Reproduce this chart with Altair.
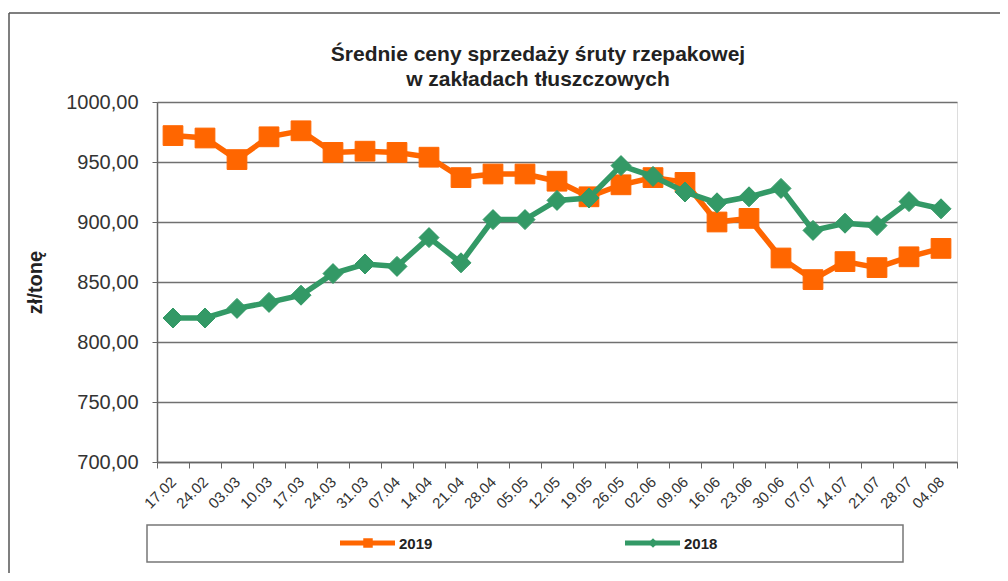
import altair as alt
import pandas as pd

dates = ["17.02", "24.02", "03.03", "10.03", "17.03", "24.03", "31.03", "07.04",
         "14.04", "21.04", "28.04", "05.05", "12.05", "19.05", "26.05", "02.06",
         "09.06", "16.06", "23.06", "30.06", "07.07", "14.07", "21.07", "28.07", "04.08"]
y2019 = [972, 970, 952, 971, 976, 958, 959, 958, 954, 937, 940, 940, 934, 921,
         931, 937, 933, 900, 903, 870, 852, 867, 862, 871, 878]
y2018 = [820, 820, 828, 833, 839, 857, 865, 863, 887, 866, 902, 902, 918, 920,
         947, 938, 925, 916, 921, 928, 893, 899, 897, 917, 911]
series = ["2019", "2018"]
colors = ["#FF6600", "#339966"]
title_lines = ["Średnie ceny sprzedaży śruty rzepakowej", "w zakładach tłuszczowych"]

df19 = pd.DataFrame({"data": dates, "cena": y2019, "seria": "2019"})
df18 = pd.DataFrame({"data": dates, "cena": y2018, "seria": "2018"})

FONT = "Liberation Sans"

x_enc = alt.X("data:O", sort=dates, bandPosition=0.5,
              scale=alt.Scale(type="band", paddingInner=0, paddingOuter=0),
              axis=alt.Axis(title=None, labelAngle=-45, labelAlign="right",
                            labelBaseline="middle", labelFontSize=15, labelFont=FONT,
                            labelColor="#333333", tickBand="extent", tickSize=6,
                            tickColor="#666666", domainColor="#666666", domainWidth=1.5,
                            grid=False, labelPadding=11))
y_enc = alt.Y("cena:Q", scale=alt.Scale(domain=[700, 1000], nice=False, zero=False),
              axis=alt.Axis(title="zł/tonę", titleFontSize=20, titleFont=FONT,
                            titleFontWeight="bold", titleColor="#222222", titlePadding=20,
                            values=[700, 750, 800, 850, 900, 950, 1000],
                            labelExpr="replace(format(datum.value, '.2f'), '.', ',')",
                            labelFontSize=20, labelFont=FONT, labelColor="#333333",
                            labelPadding=14, tickSize=5, tickColor="#666666",
                            domainColor="#666666", domainWidth=1.5,
                            grid=True, gridColor="#707070", gridWidth=1.5))

def series_layer(df, color, shape, size):
    base = alt.Chart(df).encode(x=x_enc, y=y_enc)
    line = base.mark_line(color=color, strokeWidth=5.5)
    pts = base.mark_point(shape=shape, size=size, filled=True, color=color, opacity=1,
                          stroke=color, strokeWidth=1)
    return line + pts

l19 = series_layer(df19, colors[0], "square", 390)
l18 = series_layer(df18, colors[1], "diamond", 400)

one = pd.DataFrame({"a": [0]})

# title
t1 = alt.Chart(one).mark_text(font=FONT, fontSize=21, fontWeight="bold", color="#222222",
                              align="center", baseline="middle").encode(
    x=alt.value(381), y=alt.value(-47), text=alt.value(title_lines[0]))
t2 = alt.Chart(one).mark_text(font=FONT, fontSize=21, fontWeight="bold", color="#222222",
                              align="center", baseline="middle").encode(
    x=alt.value(381), y=alt.value(-22), text=alt.value(title_lines[1]))

# custom legend
leg_box = alt.Chart(one).mark_rect(
    fill="white", stroke="#777777", strokeWidth=1.5).encode(
    x=alt.value(-10), x2=alt.value(746), y=alt.value(423), y2=alt.value(460))

leg_df = pd.DataFrame({"seria": series, "x0": [183, 468], "x1": [238, 523],
                       "xm": [211, 496], "xt": [242, 527]})
leg_line = alt.Chart(leg_df).mark_rule(strokeWidth=5).encode(
    x=alt.X("x0:Q", scale=None), x2="x1:Q", y=alt.value(441),
    color=alt.Color("seria:N", scale=alt.Scale(domain=series, range=colors), legend=None))
leg_pts = alt.Chart(leg_df).mark_point(filled=True, opacity=1, size=90).encode(
    x=alt.X("xm:Q", scale=None), y=alt.value(441),
    shape=alt.Shape("seria:N", scale=alt.Scale(domain=series, range=["square", "diamond"]), legend=None),
    color=alt.Color("seria:N", scale=alt.Scale(domain=series, range=colors), legend=None))
leg_txt = alt.Chart(leg_df).mark_text(align="left", baseline="middle", fontSize=15,
                                      fontWeight="bold", font=FONT, color="#222222").encode(
    x=alt.X("xt:Q", scale=None), y=alt.value(442), text="seria:N")

frame_top = alt.Chart(one).mark_rule(color="#555555", strokeWidth=1.5).encode(
    x=alt.value(-148), x2=alt.value(860), y=alt.value(-89))
frame_left = alt.Chart(one).mark_rule(color="#555555", strokeWidth=1.5).encode(
    x=alt.value(-148), y=alt.value(-89), y2=alt.value(480))

chart = alt.layer(frame_top, frame_left, t1, t2, l19, l18, leg_box, leg_line, leg_pts, leg_txt).resolve_scale(
    x="shared", y="shared").properties(
    width=800, height=360,
    autosize=alt.AutoSizeParams(type="none"),
    padding={"left": 149, "top": 94, "right": 43, "bottom": 111},
).configure_view(stroke=None).configure(background="white")

chart.save("out.html", embed_options={"renderer": "svg", "actions": False})
